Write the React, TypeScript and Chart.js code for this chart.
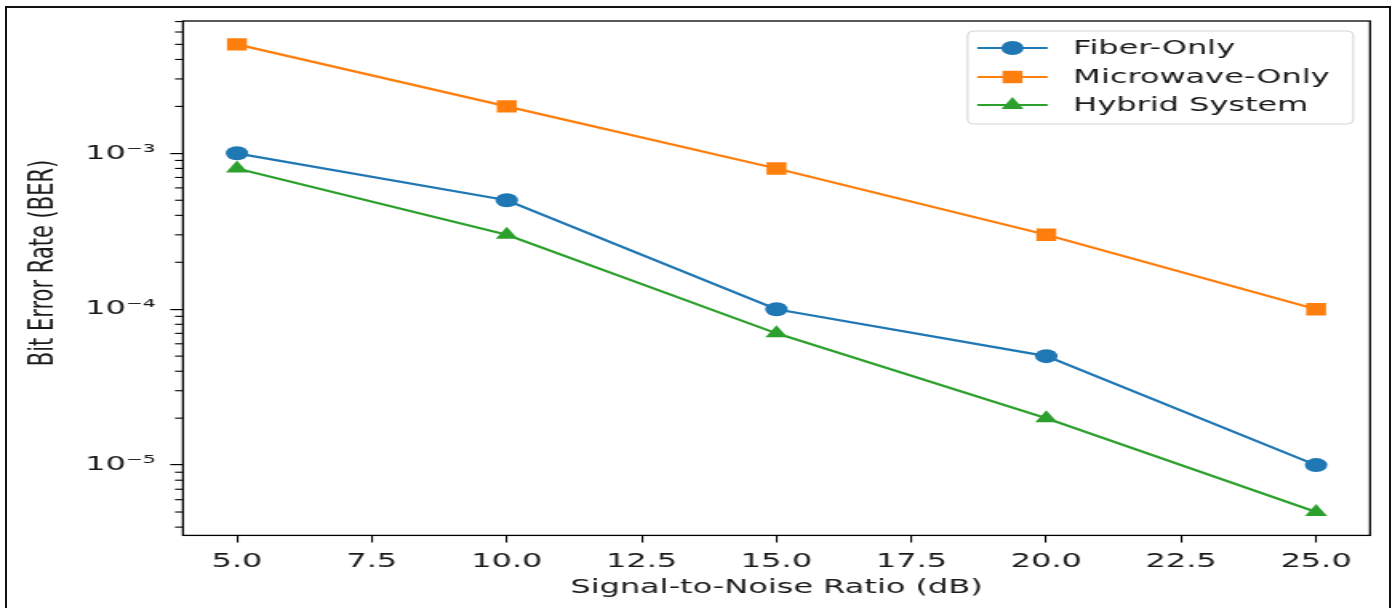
import React, { useEffect, useRef } from "react";
import { Chart, registerables } from "chart.js";

Chart.register(...registerables);

// ---- data ----
const snrValues = [5, 10, 15, 20, 25];
const fiberOnly = [1e-3, 5e-4, 1e-4, 5e-5, 1e-5];
const microwaveOnly = [5e-3, 2e-3, 8e-4, 3e-4, 1e-4];
const hybridSystem = [8e-4, 3e-4, 7e-5, 2e-5, 5e-6];
const seriesNames = ["Fiber-Only", "Microwave-Only", "Hybrid System"];
const seriesColors = ["#1f77b4", "#ff7f0e", "#2ca02c"];
const seriesMarkers = ["circle", "rect", "triangle"];
const markerRadii = [7, 8.8, 8];
const xTickValues = [5, 7.5, 10, 12.5, 15, 17.5, 20, 22.5, 25];
const yTickValues = [1e-5, 1e-4, 1e-3];
const yTickLabels = ["10⁻⁵", "10⁻⁴", "10⁻³"];
const xLimits = [4, 26];
const yLimits = [3.54e-6, 7.06e-3];
const xTitle = "Signal-to-Noise Ratio (dB)";
const yTitle = "Bit Error Rate (BER)";

// ---- layout (internal canvas is drawn narrow, then stretched horizontally like the reference) ----
const PAGE_W = 1395;
const PAGE_H = 608;
const CANVAS_W = 872;
const S = PAGE_W / CANVAS_W;
const FONT = "'DejaVu Sans', sans-serif";

function drawMarker(ctx: CanvasRenderingContext2D, kind: string, x: number, y: number, r: number) {
  ctx.beginPath();
  if (kind === "circle") {
    ctx.arc(x, y, r, 0, Math.PI * 2);
  } else if (kind === "rect") {
    const s = r * Math.SQRT1_2;
    ctx.rect(x - s, y - s, 2 * s, 2 * s);
  } else {
    let a = 0;
    ctx.moveTo(x + Math.sin(a) * r, y - Math.cos(a) * r);
    a += (2 * Math.PI) / 3;
    ctx.lineTo(x + Math.sin(a) * r, y - Math.cos(a) * r);
    a += (2 * Math.PI) / 3;
    ctx.lineTo(x + Math.sin(a) * r, y - Math.cos(a) * r);
    ctx.closePath();
  }
  ctx.fill();
}

const decorPlugin = {
  id: "decor",
  afterDraw(chart: any) {
    const ctx: CanvasRenderingContext2D = chart.ctx;
    const { left, right, top, bottom } = chart.chartArea;
    const yScale = chart.scales.y;
    ctx.save();
    // minor ticks on the log axis
    ctx.strokeStyle = "#000";
    ctx.lineWidth = 1.1;
    for (let e = -7; e <= -1; e++) {
      for (let k = 2; k <= 9; k++) {
        const v = k * Math.pow(10, e);
        if (v < yLimits[0] || v > yLimits[1]) continue;
        const py = yScale.getPixelForValue(v);
        ctx.beginPath();
        ctx.moveTo(left - 5, py);
        ctx.lineTo(left, py);
        ctx.stroke();
      }
    }
    // spines
    ctx.lineWidth = 1.3;
    ctx.strokeStyle = "#000";
    ctx.strokeRect(left, top, right - left, bottom - top);

    // axis titles
    ctx.fillStyle = "#1a1a1a";
    ctx.font = `21px ${FONT}`;
    ctx.save();
    ctx.translate(44 / S, 263);
    ctx.rotate(-Math.PI / 2);
    ctx.textAlign = "center";
    ctx.textBaseline = "middle";
    ctx.fillText(yTitle, 0, 0);
    ctx.restore();

    ctx.font = `20px ${FONT}`;
    ctx.textAlign = "center";
    ctx.textBaseline = "alphabetic";
    ctx.fillText(xTitle, (left + right) / 2, 593);

    // legend
    const bw = 241;
    const bh = 93;
    const bx = right - 10.5 - bw;
    const by = top + 10;
    ctx.beginPath();
    ctx.roundRect(bx, by, bw, bh, 4);
    ctx.fillStyle = "rgba(255,255,255,0.8)";
    ctx.fill();
    ctx.strokeStyle = "#d4d4d4";
    ctx.lineWidth = 1;
    ctx.stroke();
    const rowsY = [17, 46, 74];
    seriesNames.forEach((name, i) => {
      const ry = by + rowsY[i];
      ctx.strokeStyle = seriesColors[i];
      ctx.fillStyle = seriesColors[i];
      ctx.lineWidth = 2.2;
      ctx.beginPath();
      ctx.moveTo(bx + 6, ry);
      ctx.lineTo(bx + 50, ry);
      ctx.stroke();
      drawMarker(ctx, seriesMarkers[i], bx + 28, ry, markerRadii[i]);
      ctx.fillStyle = "#1a1a1a";
      ctx.font = `20px ${FONT}`;
      ctx.textAlign = "left";
      ctx.textBaseline = "middle";
      ctx.fillText(name, bx + 66, ry + 1);
    });
    ctx.restore();
  },
};

export default function App() {
  const canvasRef = useRef<HTMLCanvasElement | null>(null);

  useEffect(() => {
    const canvas = canvasRef.current;
    if (!canvas) return;
    const seriesValues = [fiberOnly, microwaveOnly, hybridSystem];
    const chart = new Chart(canvas, {
      type: "line",
      data: {
        datasets: seriesNames.map((name, i) => ({
          label: name,
          data: snrValues.map((x, j) => ({ x, y: seriesValues[i][j] })),
          borderColor: seriesColors[i],
          backgroundColor: seriesColors[i],
          pointBackgroundColor: seriesColors[i],
          pointBorderColor: seriesColors[i],
          pointBorderWidth: 0,
          borderWidth: 2.2,
          pointStyle: seriesMarkers[i] as any,
          pointRadius: markerRadii[i],
          tension: 0,
          fill: false,
        })),
      },
      options: {
        animation: false,
        responsive: false,
        devicePixelRatio: 1,
        layout: { padding: { left: 0, right: CANVAS_W - 1370 / S, top: 20.5, bottom: 0 } },
        plugins: { legend: { display: false }, tooltip: { enabled: false } },
        scales: {
          x: {
            type: "linear",
            min: xLimits[0],
            max: xLimits[1],
            afterBuildTicks: (s: any) => {
              s.ticks = xTickValues.map((v) => ({ value: v }));
            },
            afterFit: (s: any) => {
              s.height = PAGE_H - 535.4;
            },
            ticks: {
              callback: (v: any) => Number(v).toFixed(1),
              font: { family: FONT, size: 20 },
              color: "#1a1a1a",
              padding: 7,
              maxRotation: 0,
              autoSkip: false,
            },
            grid: { drawOnChartArea: false, drawTicks: true, tickLength: 7, color: "#000", lineWidth: 1.1 },
            border: { display: false },
          },
          y: {
            type: "logarithmic",
            min: yLimits[0],
            max: yLimits[1],
            afterBuildTicks: (s: any) => {
              s.ticks = yTickValues.map((v) => ({ value: v, major: true }));
            },
            afterFit: (s: any) => {
              s.width = 183 / S;
            },
            ticks: {
              callback: (_v: any, i: number) => yTickLabels[i],
              font: { family: FONT, size: 20 },
              color: "#1a1a1a",
              padding: 9,
              autoSkip: false,
            },
            grid: { drawOnChartArea: false, drawTicks: true, tickLength: 8, color: "#000", lineWidth: 1.2 },
            border: { display: false },
          },
        },
      },
      plugins: [decorPlugin],
    });
    return () => chart.destroy();
  }, []);

  return (
    <div style={{ position: "absolute", left: 0, top: 0, width: PAGE_W, height: PAGE_H, overflow: "hidden", background: "#fff" }}>
      <div
        style={{
          position: "absolute",
          left: 5,
          top: 6,
          width: 1382,
          height: 700,
          border: "2px solid #111",
        }}
      />
      <canvas
        ref={canvasRef}
        width={CANVAS_W}
        height={PAGE_H}
        style={{ position: "absolute", left: 0, top: 0, width: PAGE_W + "px", height: PAGE_H + "px", display: "block" }}
      />
    </div>
  );
}
